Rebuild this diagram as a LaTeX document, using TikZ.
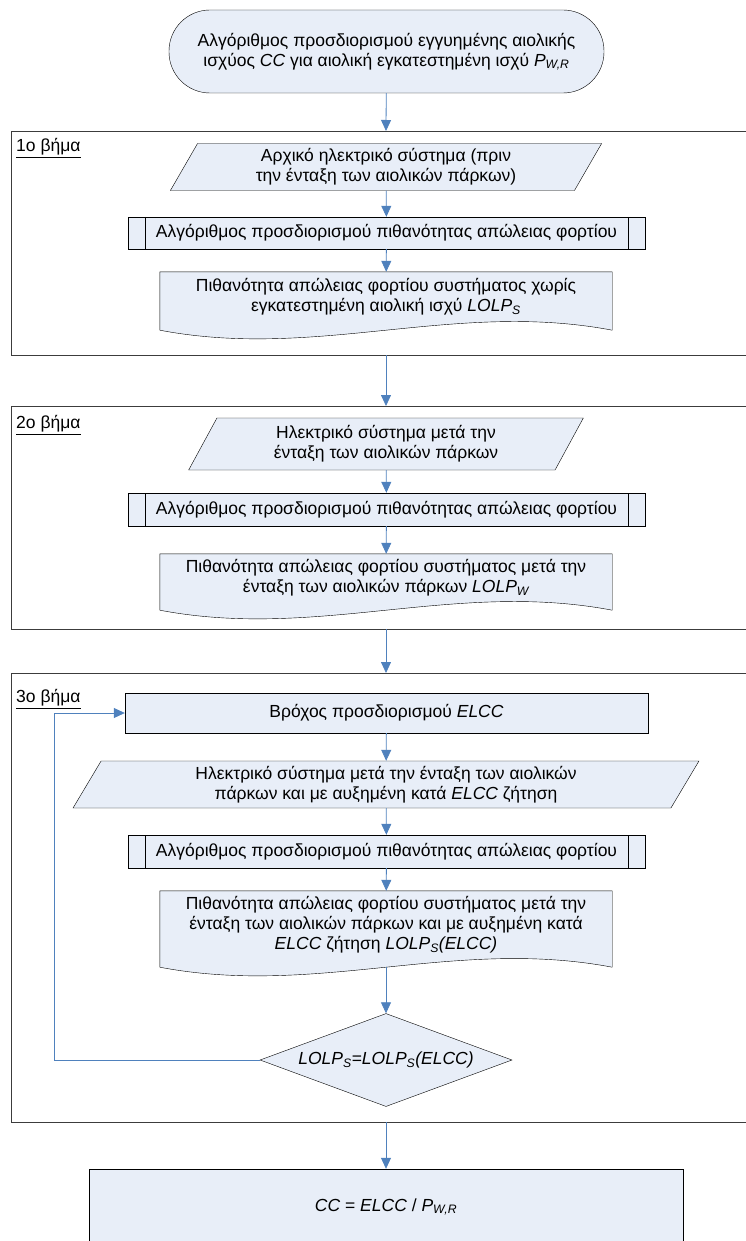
\documentclass[tikz,border=0pt]{standalone}
\usepackage{fontspec}
\setmainfont{Liberation Sans}
\usetikzlibrary{shapes.geometric,arrows.meta,backgrounds}
\definecolor{boxfill}{RGB}{232,238,248}
\definecolor{flowblue}{RGB}{79,129,189}
\definecolor{framegray}{RGB}{60,60,60}

\begin{document}
\begin{tikzpicture}[x=1pt,y=1pt,font=\fontsize{17.5}{20}\selectfont,
  box/.style={rectangle,draw,fill=boxfill,align=center,inner sep=0pt},
  term/.style={box,rounded corners=41pt,minimum width=435pt,minimum height=83pt},
  iobox/.style={trapezium,trapezium left angle=63,trapezium right angle=117,
    trapezium stretches=true,draw,fill=boxfill,align=center,inner sep=0pt},
  subbox/.style={box,minimum width=517pt,minimum height=33pt,
    path picture={
      \draw ([xshift=17pt]path picture bounding box.north west) -- ([xshift=17pt]path picture bounding box.south west);
      \draw ([xshift=-17pt]path picture bounding box.north east) -- ([xshift=-17pt]path picture bounding box.south east);}},
  docbox/.style={rectangle,align=center,inner sep=0pt,minimum width=452pt},
  dec/.style={diamond,aspect=2.71,draw,fill=boxfill,inner sep=0pt,minimum width=252pt,minimum height=93pt},
  flow/.style={draw=flowblue,line width=0.8pt,-{Triangle[length=11pt,width=10pt]}},
  frame/.style={draw=framegray,line width=0.8pt},
  steplabel/.style={anchor=west,inner sep=0pt}]
\useasboundingbox (0,0) rectangle (746,-1241);
\clip (0,0) rectangle (746,-1241);

\path (386.5,-51.5) node[term] (start){Αλγόριθμος προσδιορισμού εγγυημένης αιολικής\\ισχύος \textit{CC} για αιολική εγκατεστημένη ισχύ \textit{P\textsubscript{W,R}}};

% 1o bhma
\draw[frame] (11.5,-131) rectangle (760,-355);
\coordinate (f1top) at (386,-131);
\coordinate (f1bot) at (386,-355);
\path (16,-148) node[steplabel] (lab1){\underline{1ο βήμα}};
\path (386,-167) node[iobox,minimum width=433pt,minimum height=47pt] (in1){Αρχικό ηλεκτρικό σύστημα (πριν\\την ένταξη των αιολικών πάρκων)};
\path (386.5,-233) node[subbox,minimum height=32pt] (sub1){Αλγόριθμος προσδιορισμού πιθανότητας απώλειας φορτίου};
\path (386,-297) node[docbox,minimum height=50pt] (doc1){Πιθανότητα απώλειας φορτίου συστήματος χωρίς\\εγκατεστημένη αιολική ισχύ \textit{LOLP\textsubscript{S}}};
\draw[flow] (start) -- (f1top);
\draw[flow] (in1) -- (sub1);
\draw[flow] (sub1) -- (doc1);

% 2o bhma
\draw[frame] (11.5,-406) rectangle (760,-629);
\coordinate (f2top) at (386,-406);
\coordinate (f2bot) at (386,-629);
\path (16,-425) node[steplabel] (lab2){\underline{2ο βήμα}};
\path (386,-444) node[iobox,minimum width=395pt,minimum height=52pt] (in2){Ηλεκτρικό σύστημα μετά την\\ένταξη των αιολικών πάρκων};
\path (386.5,-509.5) node[subbox] (sub2){Αλγόριθμος προσδιορισμού πιθανότητας απώλειας φορτίου};
\path (386,-578) node[docbox,minimum height=48pt] (doc2){Πιθανότητα απώλειας φορτίου συστήματος μετά την\\ένταξη των αιολικών πάρκων \textit{LOLP\textsubscript{W}}};
\draw[flow] (f1bot) -- (f2top);
\draw[flow] (in2) -- (sub2);
\draw[flow] (sub2) -- (doc2);

% 3o bhma
\draw[frame] (11.5,-673) rectangle (760,-1122);
\coordinate (f3top) at (386,-673);
\coordinate (f3bot) at (386,-1122);
\path (16,-699) node[steplabel] (lab3){\underline{3ο βήμα}};
\path (386.5,-713) node[box,minimum width=523pt,minimum height=40pt] (loop){Βρόχος προσδιορισμού \textit{ELCC}};
\path (386,-784.5) node[iobox,minimum width=628pt,minimum height=47pt] (in3){Ηλεκτρικό σύστημα μετά την ένταξη των αιολικών\\πάρκων και με αυξημένη κατά \textit{ELCC} ζήτηση};
\path (386.5,-851.5) node[subbox] (sub3){Αλγόριθμος προσδιορισμού πιθανότητας απώλειας φορτίου};
\path (386,-925) node[docbox,minimum height=68pt] (doc3){Πιθανότητα απώλειας φορτίου συστήματος μετά την\\ένταξη των αιολικών πάρκων και με αυξημένη κατά\\\textit{ELCC} ζήτηση \textit{LOLP\textsubscript{S}(ELCC)}};
\path (386,-1060) node[dec] (test){\textit{LOLP\textsubscript{S}=LOLP\textsubscript{S}(ELCC)}};
\coordinate (back) at (54,-1060);
\draw[flow] (f2bot) -- (f3top);
\draw[flow] (loop) -- (in3);
\draw[flow] (in3) -- (sub3);
\draw[flow] (sub3) -- (doc3);
\draw[flow] ([yshift=-8pt]doc3.south) -- (test);
\draw[flow] (test.west) -- (back) |- (loop.west);

% result
\path (386,-1207) node[box,minimum width=594pt,minimum height=76pt] (result){\textit{CC} = \textit{ELCC} / \textit{P\textsubscript{W,R}}};
\draw[flow] (f3bot) -- (result);

% document outlines
\begin{scope}[on background layer]
\foreach \d in {doc1,doc2,doc3}
  \draw[fill=boxfill] (\d.north west) -- ([yshift=-8pt]\d.south west)
    .. controls +(158,-30) and +(-158,30) .. ([yshift=-8pt]\d.south east)
    -- (\d.north east) -- cycle;
\end{scope}
\end{tikzpicture}
\end{document}
